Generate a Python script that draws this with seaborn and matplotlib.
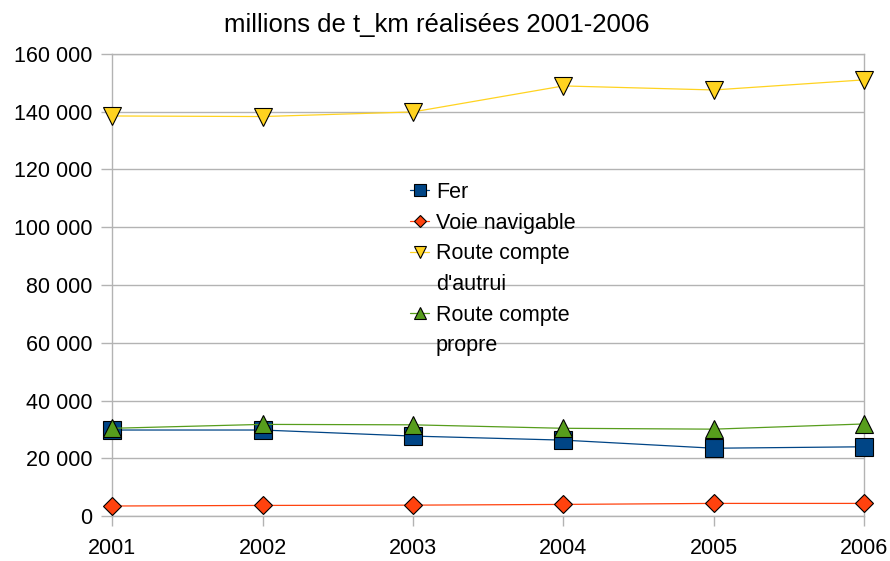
import pandas as pd
import seaborn as sns
import matplotlib.pyplot as plt
from matplotlib.lines import Line2D
from matplotlib.ticker import FuncFormatter

years = [2001, 2002, 2003, 2004, 2005, 2006]
fer = [29800, 29800, 27700, 26300, 23500, 24000]
voie = [3500, 3700, 3800, 4050, 4400, 4400]
route_autrui = [138500, 138300, 139900, 148900, 147500, 151000]
route_propre = [30400, 31750, 31600, 30400, 30100, 31900]

series = ["Fer", "Voie navigable", "Route compte d'autrui", "Route compte propre"]
colors = ['#004586', '#ff420e', '#ffd320', '#579d1c']
marks = ['s', 'D', 'v', '^']

df = pd.DataFrame({'annee': years * 4,
                   'valeur': fer + voie + route_autrui + route_propre,
                   'serie': [s for s in series for _ in years]})

sns.set_style('white')
plt.rcParams['font.family'] = ['Liberation Sans', 'DejaVu Sans']
plt.rcParams['text.color'] = 'black'

fig = plt.figure(figsize=(8.9, 5.61), dpi=100)
ax = fig.add_axes([0.126, 0.080, 0.845, 0.824])

sns.lineplot(data=df, x='annee', y='valeur', hue='serie', style='serie',
             palette=dict(zip(series, colors)), markers=dict(zip(series, marks)),
             dashes=False, markersize=13, markeredgecolor='black',
             markeredgewidth=0.8, linewidth=0.9, ax=ax, clip_on=False, zorder=3)

# smaller diamonds
for line in ax.lines:
    if line.get_marker() == 'D':
        line.set_markersize(9.5)

ax.set_xlim(2001, 2006)
ax.set_ylim(0, 160000)
ax.set_xticks(years)
ax.set_yticks(range(0, 160001, 20000))
ax.yaxis.set_major_formatter(FuncFormatter(lambda v, p: f"{int(v):,}".replace(',', ' ')))
ax.yaxis.grid(True, color='#b3b3b3', linewidth=1)
ax.xaxis.grid(False)
for s in ax.spines.values():
    s.set_color('#b3b3b3')
    s.set_linewidth(1)
ax.tick_params(axis='both', labelsize=15.5, colors='#b3b3b3', labelcolor='black',
               width=1, direction='out')
ax.tick_params(axis='y', length=8, pad=6, left=True)
ax.tick_params(axis='x', length=7, pad=9, bottom=True)
ax.set_xlabel('')
ax.set_ylabel('')
ax.set_title('millions de t_km réalisées 2001-2006', fontsize=18.5, pad=16, x=0.431,
             color='black')

# legend: long labels wrapped onto a second row, handle on the first row
hands, labs = ax.get_legend_handles_labels()
blank = Line2D([], [], linestyle='none')
hands = [hands[0], hands[1], hands[2], blank, hands[3], blank]
labs = ['Fer', 'Voie navigable', 'Route compte', "d'autrui", 'Route compte', 'propre']
leg = ax.legend(hands, labs, loc='upper left', bbox_to_anchor=(0.396, 0.723),
                frameon=False, fontsize=15.5, handlelength=0.9, handletextpad=0.3,
                labelspacing=0.45, borderpad=0, borderaxespad=0)
for h in leg.legend_handles:
    h.set_markersize(6.5 if h.get_marker() == 'D' else 9)
    h.set_markeredgewidth(0.8)
for t in leg.get_texts():
    t.set_color('black')

fig.savefig('out.png', dpi=100)
